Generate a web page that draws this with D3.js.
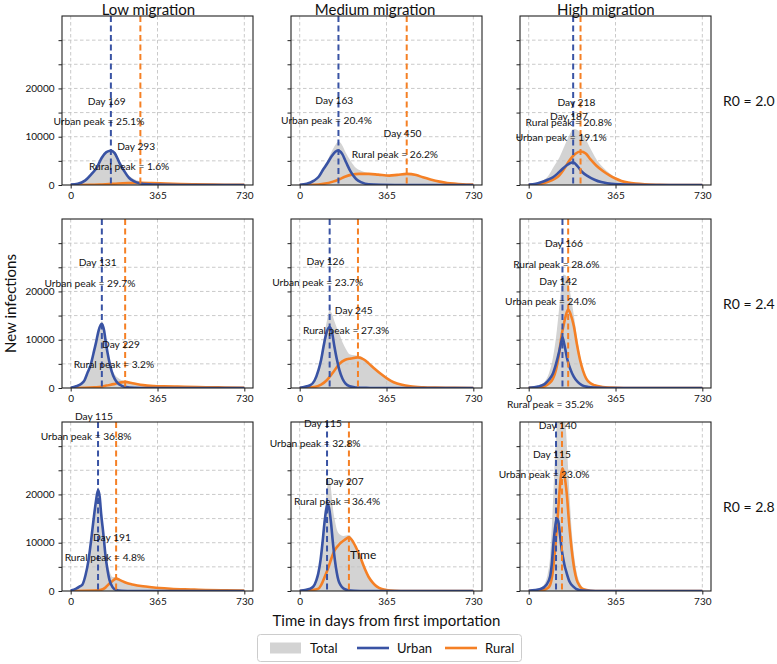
<!DOCTYPE html>
<html><head><meta charset="utf-8">
<script src="https://cdn.jsdelivr.net/npm/d3@7"></script>
<style>body{margin:0;background:#fff}svg{display:block}</style>
</head><body><svg id="chart" width="777" height="664"></svg>
<script>
// ---------- data ----------
const migrationLevels = ["Low migration", "Medium migration", "High migration"];
const r0Labels = ["R0 = 2.0", "R0 = 2.4", "R0 = 2.8"];
const seriesNames = ["Total", "Urban", "Rural"];
const xTickValues = [0, 365, 730];
const yGridValues = [0, 5000, 10000, 15000, 20000, 25000, 30000];
const yTickLabelValues = [0, 10000, 20000];

// curves: [day, new infections]
const urban_low_20 = [[0,80],[30,250],[60,900],[90,2400],[110,3600],[130,5600],[150,6800],[169,7100],[185,6600],[205,4600],[225,2900],[245,1500],[265,800],[290,350],[330,120],[400,30],[500,0],[730,0]];
const rural_low_20 = [[0,0],[80,20],[120,80],[160,200],[200,320],[240,400],[293,450],[340,400],[400,300],[460,210],[520,150],[600,90],[680,45],[730,25]];
const total_low_20 = [[0,80],[30,250],[60,920],[90,2450],[110,3700],[130,5750],[150,7000],[169,7400],[185,7000],[205,5000],[225,3300],[245,1950],[265,1250],[290,800],[330,520],[400,330],[460,210],[520,150],[600,90],[680,45],[730,25]];

const urban_med_20 = [[0,60],[30,250],[60,900],[80,1700],[100,3300],[115,4400],[135,6000],[150,6900],[163,7150],[178,6500],[195,4700],[215,2700],[237,1250],[260,550],[290,150],[340,30],[400,0],[730,0]];
const rural_med_20 = [[0,0],[60,50],[100,250],[140,700],[167,1200],[190,1700],[219,2150],[250,2300],[290,2300],[330,2150],[377,1950],[410,2100],[450,2300],[490,2050],[518,1600],[550,1150],[588,700],[620,420],[658,250],[700,100],[730,70]];
const total_med_20 = [[0,60],[30,260],[60,950],[80,1800],[100,3600],[115,4900],[135,7000],[150,8300],[163,9000],[178,8300],[195,6600],[215,4900],[237,3500],[260,2900],[290,2450],[330,2180],[377,1960],[410,2110],[450,2300],[490,2050],[518,1600],[550,1150],[588,700],[620,420],[658,250],[700,100],[730,70]];

const urban_high_20 = [[0,80],[30,250],[49,500],[80,1100],[102,1600],[120,2300],[137,3100],[160,4100],[187,4700],[205,3900],[225,2700],[250,1800],[277,1100],[305,600],[330,350],[383,130],[450,40],[520,0],[730,0]];
const rural_high_20 = [[0,20],[40,150],[84,700],[110,1300],[128,1950],[150,3400],[172,5100],[195,6400],[218,6950],[240,6500],[260,5300],[285,4000],[312,2900],[340,2000],[365,1350],[390,850],[418,500],[450,280],[488,140],[550,50],[620,0],[730,0]];
const total_high_20 = [[0,100],[40,500],[84,2000],[104,3700],[128,5600],[150,8000],[172,10400],[187,11600],[200,11500],[218,10900],[240,9500],[260,7500],[285,5300],[312,3700],[340,2450],[365,1600],[390,1000],[418,620],[450,330],[488,170],[550,60],[620,0],[730,0]];

const urban_low_24 = [[0,60],[23,350],[45,900],[58,1600],[72,3300],[84,4800],[96,7200],[107,9500],[118,12000],[131,13300],[140,12000],[149,9000],[160,6000],[172,3500],[185,1900],[198,1000],[215,450],[233,200],[270,60],[330,0],[730,0]];
const rural_low_24 = [[0,0],[100,150],[128,250],[150,500],[181,800],[205,1100],[229,1260],[260,1000],[304,600],[350,420],[391,350],[450,280],[532,200],[620,120],[730,60]];
const total_low_24 = [[0,60],[23,350],[45,900],[58,1620],[72,3350],[84,4900],[96,7400],[107,9700],[118,12300],[131,13800],[140,12700],[149,9700],[160,6700],[172,4200],[185,2800],[198,2100],[215,1600],[233,1450],[260,1100],[304,650],[350,440],[391,360],[450,280],[532,200],[620,120],[730,60]];

const urban_med_24 = [[0,50],[44,560],[62,1500],[79,3700],[90,5800],[100,8500],[112,11300],[126,12600],[136,11500],[146,8600],[156,6000],[167,3700],[180,1900],[193,900],[210,350],[235,120],[280,20],[330,0],[730,0]];
const rural_med_24 = [[0,0],[61,200],[90,700],[114,1600],[140,3200],[167,5000],[190,5800],[215,6100],[245,6350],[270,5900],[290,5100],[315,4000],[342,2900],[370,1900],[395,1200],[430,650],[465,350],[520,150],[570,70],[650,20],[730,0]];
const total_med_24 = [[0,50],[44,700],[62,1800],[79,4400],[90,6800],[100,9800],[112,13300],[126,16000],[136,15300],[146,13800],[156,12500],[167,11200],[180,9500],[193,8200],[210,7000],[230,6800],[245,6700],[270,6100],[290,5200],[315,4050],[342,2920],[370,1900],[395,1200],[430,650],[465,350],[520,150],[570,70],[650,20],[730,0]];

const urban_high_24 = [[0,50],[40,300],[67,800],[85,1700],[102,3000],[115,5000],[128,7500],[136,9300],[142,10500],[150,9000],[163,5800],[176,3800],[190,2300],[207,1200],[225,560],[250,200],[277,70],[330,0],[730,0]];
const rural_high_24 = [[0,20],[50,150],[67,350],[85,900],[102,1950],[115,3800],[128,7200],[138,10800],[146,12800],[156,15000],[166,16250],[176,15300],[190,12800],[203,9000],[216,5800],[229,3500],[242,1950],[260,1000],[277,560],[310,200],[347,70],[400,0],[730,0]];
const total_high_24 = [[0,70],[40,500],[67,1300],[85,3000],[102,6300],[115,10500],[128,16500],[136,20500],[146,23500],[156,23300],[166,22000],[176,19300],[190,15000],[203,10500],[216,6700],[229,4100],[242,2300],[260,1200],[277,650],[310,220],[347,70],[400,0],[730,0]];

const urban_low_28 = [[0,80],[23,490],[40,1000],[49,1300],[62,3200],[75,6400],[86,10500],[96,14700],[106,18500],[115,20900],[122,19500],[128,16000],[137,12000],[146,7500],[155,4300],[163,2300],[176,800],[189,280],[215,60],[260,0],[730,0]];
const rural_low_28 = [[0,0],[100,80],[128,250],[146,700],[160,1400],[172,1900],[191,2570],[210,2200],[233,1700],[260,1350],[304,970],[340,780],[374,625],[420,480],[479,350],[520,280],[567,210],[650,130],[730,70]];
const total_low_28 = [[0,80],[23,490],[40,1000],[49,1350],[62,3250],[75,6500],[86,10700],[96,15000],[106,19000],[115,21500],[122,20300],[128,16800],[137,13200],[146,8800],[155,5800],[163,4200],[176,2900],[191,2850],[210,2300],[233,1750],[260,1370],[304,980],[340,780],[374,625],[420,480],[479,350],[520,280],[567,210],[650,130],[730,70]];

const urban_med_28 = [[0,60],[40,400],[57,900],[70,2200],[78,3600],[88,6500],[96,10000],[104,14000],[112,17000],[118,18000],[125,16800],[132,14000],[140,9800],[148,6400],[156,3800],[163,2200],[172,1200],[183,560],[200,200],[230,40],[280,0],[730,0]];
const rural_med_28 = [[0,0],[44,150],[79,490],[90,1200],[105,2900],[118,4500],[127,5800],[138,7400],[148,8500],[160,9300],[170,9870],[184,10400],[195,10800],[207,11100],[220,10500],[237,9000],[255,7000],[272,4800],[290,2900],[308,1700],[325,900],[345,400],[370,150],[400,40],[450,0],[730,0]];
const total_med_28 = [[0,60],[40,500],[57,1100],[70,2600],[78,4200],[88,7500],[96,11500],[104,16200],[112,20000],[120,22800],[126,23300],[132,21000],[140,17000],[148,14600],[156,12800],[163,12000],[172,11600],[184,11400],[195,11500],[207,11600],[220,10900],[237,9200],[255,7100],[272,4850],[290,2950],[308,1720],[325,900],[345,400],[370,150],[400,40],[450,0],[730,0]];

const urban_high_28 = [[0,60],[50,400],[75,1300],[90,3000],[97,5500],[104,9870],[112,13500],[118,15000],[124,14500],[132,11500],[139,8500],[150,5500],[160,3660],[172,1900],[188,900],[205,300],[230,80],[280,0],[730,0]];
const rural_high_28 = [[0,20],[60,200],[80,600],[90,1240],[100,3500],[111,8490],[120,14000],[129,20200],[136,24000],[142,25400],[150,24000],[160,20200],[170,14000],[181,8490],[192,4500],[202,2280],[215,1000],[230,350],[260,60],[300,0],[730,0]];
const total_high_28 = [[0,80],[50,700],[70,1800],[80,3500],[90,7000],[100,16000],[108,25000],[116,33000],[124,38000],[132,40000],[140,40000],[148,38000],[156,34000],[164,27000],[172,19500],[181,12500],[192,7000],[202,3800],[215,1700],[230,650],[260,100],[300,0],[730,0]];

// peak annotations (rows: R0, cols: migration)
const urbanPeakDay = [[169,163,187],[131,126,142],[115,115,115]];
const ruralPeakDay = [[293,450,218],[229,245,166],[191,207,140]];
const urbanPeakPct = [["25.1","20.4","19.1"],["29.7","23.7","24.0"],["36.8","32.8","23.0"]];
const ruralPeakPct = [["1.6","26.2","20.8"],["3.2","27.3","28.6"],["4.8","36.4","35.2"]];
// heights (in infections) at which the annotation texts sit
const urbanDayLabelY = [[17460,17600,14290],[26050,26200,22260],[36300,34730,28370]];
const urbanPctLabelY = [[13250,13460,10000],[21780,21910,18060],[32100,30590,24230]];
const ruralDayLabelY = [[8080,10700,17250],[9150,16190,29990],[11120,22840,34380]];
const ruralPctLabelY = [[3930,6420,12980],[4870,11910,25720],[6980,18700,38660]];
const strayLabel = ["Time"];
const strayLabelAt = [212, 7660];

// ---------- drawing ----------
const totalCurves = [[total_low_20,total_med_20,total_high_20],[total_low_24,total_med_24,total_high_24],[total_low_28,total_med_28,total_high_28]];
const urbanCurves = [[urban_low_20,urban_med_20,urban_high_20],[urban_low_24,urban_med_24,urban_high_24],[urban_low_28,urban_med_28,urban_high_28]];
const ruralCurves = [[rural_low_20,rural_med_20,rural_high_20],[rural_low_24,rural_med_24,rural_high_24],[rural_low_28,rural_med_28,rural_high_28]];

const BLUE = "#3953a4", ORANGE = "#f58025", GRAY = "#d3d3d3";
const FONT = "Lato, 'Open Sans', sans-serif";
const svg = d3.select("#chart");
const colLeft = [62, 291, 520], rowTop = [16, 219, 422], PW = 191, PH = 169;

const measurer = svg.append("text").attr("font-family", "DejaVu Sans").style("visibility", "hidden");
function origHalf(str, size) { measurer.attr("font-size", size).text(str); return measurer.node().getComputedTextLength() / 2; }

const defs = svg.append("defs");

for (let r = 0; r < 3; r++) {
  for (let c = 0; c < 3; c++) {
    const L = colLeft[c], T = rowTop[r];
    const x = d3.scaleLinear().domain([-36.5, 766.5]).range([L, L + PW]);
    const y = d3.scaleLinear().domain([0, 35000]).range([T + PH, T]);
    const id = `clip${r}${c}`;
    defs.append("clipPath").attr("id", id).append("rect").attr("x", L).attr("y", T).attr("width", PW).attr("height", PH);
    const g = svg.append("g");
    const inner = g.append("g").attr("clip-path", `url(#${id})`);

    const area = d3.area().x(d => x(d[0])).y0(y(0)).y1(d => y(d[1])).curve(d3.curveMonotoneX);
    const line = d3.line().x(d => x(d[0])).y(d => y(d[1])).curve(d3.curveMonotoneX);

    inner.append("path").datum(totalCurves[r][c]).attr("d", area).attr("fill", GRAY);

    // grid
    inner.selectAll(".gy").data(yGridValues.filter(v => v > 0)).join("line")
      .attr("x1", L).attr("x2", L + PW).attr("y1", d => y(d)).attr("y2", d => y(d))
      .attr("stroke", "#c4c4c4").attr("stroke-width", 0.9).attr("stroke-dasharray", "3.5,2.5");
    inner.selectAll(".gx").data(xTickValues).join("line")
      .attr("x1", d => x(d)).attr("x2", d => x(d)).attr("y1", T).attr("y2", T + PH)
      .attr("stroke", "#c4c4c4").attr("stroke-width", 0.9).attr("stroke-dasharray", "3.5,2.5");

    inner.append("path").datum(ruralCurves[r][c]).attr("d", line).attr("fill", "none").attr("stroke", ORANGE).attr("stroke-width", 2.6).attr("stroke-linejoin", "round");
    inner.append("path").datum(urbanCurves[r][c]).attr("d", line).attr("fill", "none").attr("stroke", BLUE).attr("stroke-width", 2.6).attr("stroke-linejoin", "round");

    // peak day lines
    [[urbanPeakDay[r][c], BLUE], [ruralPeakDay[r][c], ORANGE]].forEach(([d, col]) => {
      inner.append("line").attr("x1", x(d)).attr("x2", x(d)).attr("y1", T).attr("y2", T + PH)
        .attr("stroke", col).attr("stroke-width", 2).attr("stroke-dasharray", "6,3.5");
    });

    // axes
    const ax = g.append("g").attr("transform", `translate(0,${T + PH})`)
      .call(d3.axisBottom(x).tickValues(xTickValues).tickSize(3.5).tickPadding(3));
    const ay = g.append("g").attr("transform", `translate(${L},0)`)
      .call(d3.axisLeft(y).tickValues(yGridValues).tickSize(3.5).tickPadding(4)
        .tickFormat(d => (c === 0 && yTickLabelValues.includes(d)) ? String(d) : ""));
    [ax, ay].forEach(a => {
      a.select(".domain").remove();
      a.selectAll("text").attr("font-family", FONT).attr("font-size", 10).attr("fill", "#111");
      a.selectAll("line").attr("stroke", "#222");
    });

    g.append("rect").attr("x", L).attr("y", T).attr("width", PW).attr("height", PH)
      .attr("fill", "none").attr("stroke", "#222").attr("stroke-width", 1.1);

    // annotations
    const ann = [
      ["Day " + urbanPeakDay[r][c], urbanPeakDay[r][c], urbanDayLabelY[r][c]],
      ["Urban peak = " + urbanPeakPct[r][c] + "%", urbanPeakDay[r][c], urbanPctLabelY[r][c]],
      ["Day " + ruralPeakDay[r][c], ruralPeakDay[r][c], ruralDayLabelY[r][c]],
      ["Rural peak = " + ruralPeakPct[r][c] + "%", ruralPeakDay[r][c], ruralPctLabelY[r][c]]
    ];
    ann.forEach(([txt, d, v]) => {
      g.append("text").attr("x", x(d) - origHalf(txt, 11)).attr("y", y(v))
        .attr("dominant-baseline", "central").attr("font-family", FONT).attr("font-size", 10.2)
        .attr("fill", "#111").text(txt);
    });
    if (r === 2 && c === 1) {
      g.append("text").attr("x", x(strayLabelAt[0])).attr("y", y(strayLabelAt[1]))
        .attr("dominant-baseline", "central").attr("font-family", FONT).attr("font-size", 12)
        .attr("fill", "#111").text(strayLabel[0]);
    }
    if (r === 0) {
      const t = migrationLevels[c];
      svg.append("text").attr("x", L + PW / 2 - origHalf(t, 15.7)).attr("y", 14.5)
        .attr("font-family", FONT).attr("font-size", 15).attr("fill", "#111").text(t);
    }
    if (c === 2) {
      svg.append("text").attr("x", 723).attr("y", T + PH / 2).attr("dominant-baseline", "central")
        .attr("font-family", FONT).attr("font-size", 14).attr("fill", "#111").text(r0Labels[r]);
    }
  }
}
measurer.remove();

svg.append("text").attr("transform", `translate(10,${rowTop[1] + PH / 2}) rotate(-90)`)
  .attr("text-anchor", "middle").attr("dominant-baseline", "central")
  .attr("font-family", FONT).attr("font-size", 15).attr("fill", "#111").text("New infections");
svg.append("text").attr("x", colLeft[1] + PW / 2).attr("y", 620).attr("text-anchor", "middle")
  .attr("dominant-baseline", "central").attr("font-family", FONT).attr("font-size", 15)
  .attr("fill", "#111").text("Time in days from first importation");

// legend
const lg = svg.append("g");
lg.append("rect").attr("x", 257.5).attr("y", 634.5).attr("width", 264).attr("height", 27).attr("rx", 3)
  .attr("fill", "#fff").attr("stroke", "#cccccc");
const legendX = [270, 357, 445];
seriesNames.forEach((name, i) => {
  const lx = legendX[i], ly = 648;
  if (i === 0) lg.append("rect").attr("x", lx).attr("y", ly - 5.5).attr("width", 31).attr("height", 11).attr("fill", GRAY);
  else lg.append("line").attr("x1", lx).attr("x2", lx + 32).attr("y1", ly).attr("y2", ly)
    .attr("stroke", i === 1 ? BLUE : ORANGE).attr("stroke-width", 2.6);
  lg.append("text").attr("x", lx + 40).attr("y", ly).attr("dominant-baseline", "central")
    .attr("font-family", FONT).attr("font-size", 13).attr("fill", "#111").text(name);
});
</script></body></html>
